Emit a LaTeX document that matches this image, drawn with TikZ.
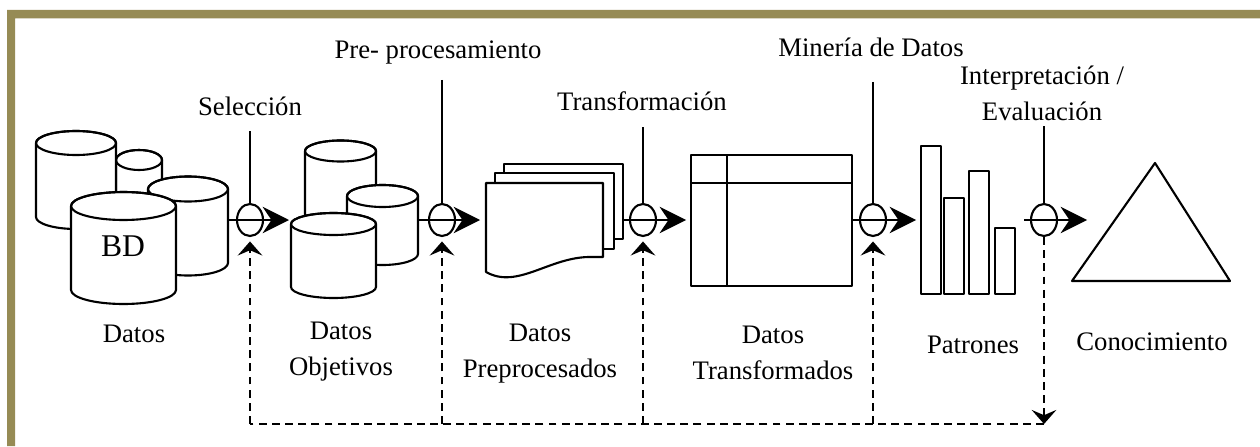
\documentclass[tikz,border=0pt]{standalone}
\usepackage{fontspec}
\setmainfont{Liberation Serif}
\usetikzlibrary{arrows.meta,shapes.geometric}
\definecolor{oliva}{RGB}{150,139,85}
% cilindro: izquierda, derecha, tapa, fondo, radio vertical
\newcommand{\cilindro}[5]{%
	\filldraw[fill=white] (#1,#3) -- (#1,#4) arc[start angle=180, end angle=0, x radius={(#2-#1)/2}, y radius=#5] -- (#2,#3) arc[start angle=0, end angle=-180, x radius={(#2-#1)/2}, y radius=#5] -- cycle;
	\draw ({(#1+#2)/2},#3) ellipse [x radius={(#2-#1)/2}, y radius=#5];}
\tikzset{
	flecha/.style={-{Stealth[length=15pt, width=15pt, inset=5pt]}},
	retro/.style={dash pattern=on 4.5pt off 3pt, -{Stealth[length=8pt, width=14pt, inset=3pt]}},
	oper/.style={draw, ellipse, minimum width=0.52cm, minimum height=0.64cm, inner sep=0pt},
	etiq/.style={font=\fontsize{15.2}{20.4}\selectfont, align=center, inner sep=0pt, anchor=base}
}
\begin{document}
\begin{tikzpicture}[x=0.02cm, y=-0.02cm, line width=1.2pt, line join=round]
	\useasboundingbox (0,0) rectangle (1260,446);
	\fill[oliva] (7,10) rectangle (1260,18.5) (7,10) rectangle (15,446);
	
	% Datos
	\cilindro{116}{162}{160}{230}{10}
	\cilindro{36}{116}{143}{217}{12}
	\cilindro{148}{228}{189}{263}{12.5}
	\cilindro{71}{176}{206}{290}{14}
	\node[etiq, font=\fontsize{18}{20}\selectfont] (bd) at (123,256) {BD};
	% Datos objetivos
	\cilindro{305}{376}{151}{260}{10.5}
	\cilindro{347}{418}{196}{254}{11}
	\cilindro{291}{376}{224}{287}{11}
	% Datos preprocesados
	\foreach \x/\y/\b in {504/164/239, 495/173/249}
	\filldraw[fill=white] (\x,\y) rectangle (\x+119,\b);
	\filldraw[fill=white] (486,183) -- (486,272) .. controls (518,290) and (550,256) .. (592,257) -- (603,257) -- (603,183) -- cycle;
	% Datos transformados
	\draw (691,155) rectangle (852,286) (727,155) -- (727,286) (691,183) -- (852,183);
	% Patrones
	\foreach \x/\y in {921/146, 944/198, 969/171, 995/228}
	\draw (\x,\y) rectangle (\x+20,294);
	% Conocimiento
	\draw (1155,163) -- (1072,281) -- (1230,281) -- cycle;
	
	\foreach \n/\x/\t in {sel/250/131, pre/442/80, tra/643/127, min/873/82, int/1044/126}{
		\node[oper] (op\n) at (\x,220) {};
		\coordinate (t\n) at (\x,\t);
		\draw (t\n) -- (op\n);
	}
	
	\path
	(228,220) coordinate (s1) (289,220) coordinate (e1)
	(418,220) coordinate (s2) (480,220) coordinate (e2)
	(623,220) coordinate (s3) (686,220) coordinate (e3)
	(852,220) coordinate (s4) (916,220) coordinate (e4)
	(1024,220) coordinate (s5) (1087,220) coordinate (e5)
	(1044,424) coordinate (fb);
	\foreach \i in {1,...,5}
	\draw[flecha] (s\i) -- (e\i);
	
	\draw[retro] (opint) -- (fb);
	\draw[dash pattern=on 4.5pt off 3pt] (fb) -- (opsel |- fb);
	\foreach \n in {sel, pre, tra, min}
	\draw[retro, shorten >=2.5pt] (op\n |- fb) -- (op\n);
	
	\node[etiq] (lsel) at (250,115) {Selección};
	\node[etiq] (lpre) at (438,59) {Pre- procesamiento};
	\node[etiq] (ltra) at (642,111) {Transformación};
	\node[etiq] (lmin) at (871,57) {Minería de Datos};
	\node[etiq] (lint) at (1042,120) {Interpretación /\\Evaluación};
	\node[etiq] (ldat) at (134,342) {Datos};
	\node[etiq] (lobj) at (341,375) {Datos\\Objetivos};
	\node[etiq] (lpro) at (540,377) {Datos\\Preprocesados};
	\node[etiq] (ltrf) at (773,379) {Datos\\Transformados};
	\node[etiq] (lpat) at (973,353) {Patrones};
	\node[etiq] (lcon) at (1152,350) {Conocimiento};
\end{tikzpicture}
\end{document}
